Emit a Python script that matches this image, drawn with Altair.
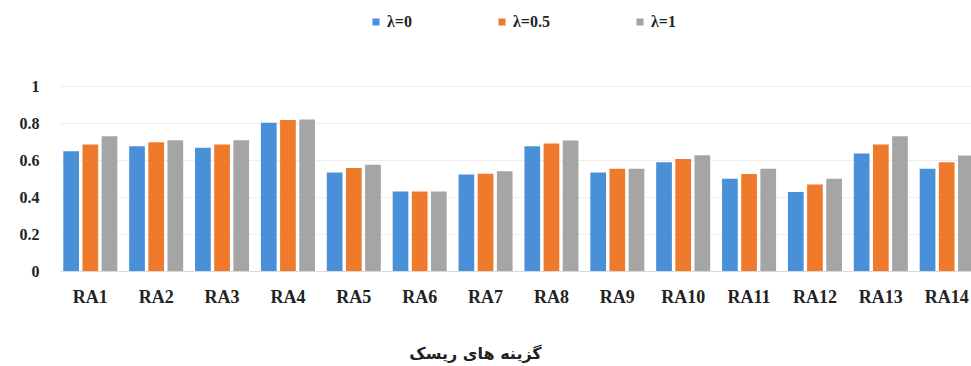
import altair as alt
import pandas as pd

categories = ["RA1", "RA2", "RA3", "RA4", "RA5", "RA6", "RA7",
              "RA8", "RA9", "RA10", "RA11", "RA12", "RA13", "RA14"]
series_names = ["λ=0", "λ=0.5", "λ=1"]
lambda_0 = [0.647, 0.675, 0.666, 0.801, 0.533, 0.430, 0.521,
            0.675, 0.533, 0.588, 0.499, 0.427, 0.635, 0.553]
lambda_05 = [0.684, 0.696, 0.684, 0.816, 0.557, 0.430, 0.526,
             0.689, 0.553, 0.606, 0.524, 0.467, 0.684, 0.588]
lambda_1 = [0.729, 0.707, 0.707, 0.819, 0.575, 0.430, 0.539,
            0.705, 0.553, 0.626, 0.553, 0.499, 0.729, 0.624]
y_ticks = [0, 0.2, 0.4, 0.6, 0.8, 1]
colors = ["#4a90d9", "#f07a2c", "#a5a5a5"]

rows = []
for name, vals in zip(series_names, [lambda_0, lambda_05, lambda_1]):
    for cat, v in zip(categories, vals):
        rows.append({"cat": cat, "series": name, "value": v})
df = pd.DataFrame(rows)

serif = "Liberation Serif, Times New Roman, serif"

chart = alt.Chart(df).mark_bar().encode(
    x=alt.X("cat:N", sort=categories,
            scale=alt.Scale(range=[0, 917], paddingInner=0.18, paddingOuter=0.05),
            axis=alt.Axis(title="گزینه های ریسک", labelAngle=0, ticks=False,
                          labelFont=serif, labelFontSize=18, labelFontWeight="bold",
                          labelColor="#222222", labelPadding=17,
                          domain=True, domainColor="#d9d9d9",
                          titleFont="DejaVu Sans", titleFontSize=16,
                          titleFontWeight="bold", titleColor="#222222",
                          titleX=415, titleY=82, titleAlign="center",
                          titleAnchor="start", titleBaseline="middle")),
    xOffset=alt.XOffset("series:N", sort=series_names,
                        scale=alt.Scale(paddingInner=0.18)),
    y=alt.Y("value:Q",
            scale=alt.Scale(domain=[0, 1], nice=False),
            axis=alt.Axis(title=None, values=y_ticks, ticks=False, domain=False,
                          format="~g",
                          labelFont=serif, labelFontSize=16, labelFontWeight="bold",
                          labelColor="#222222", labelPadding=21,
                          grid=True, gridColor="#eeeeee")),
    color=alt.Color("series:N", sort=series_names,
                    scale=alt.Scale(domain=series_names, range=colors),
                    legend=alt.Legend(title=None, orient="none", direction="horizontal",
                                      legendX=308, legendY=-72,
                                      symbolType="square", symbolSize=50,
                                      symbolStrokeWidth=0,
                                      labelFont=serif, labelFontSize=16,
                                      labelFontWeight="bold", labelColor="#222222",
                                      columnPadding=82, labelOffset=3)),
).properties(
    width=911,
    height=185,
    autosize=alt.AutoSizeParams(type="none"),
    padding={"left": 60, "top": 86, "right": 0, "bottom": 95},
).configure_view(stroke=None)

chart.save("out.html", embed_options={"renderer": "svg", "actions": False})
